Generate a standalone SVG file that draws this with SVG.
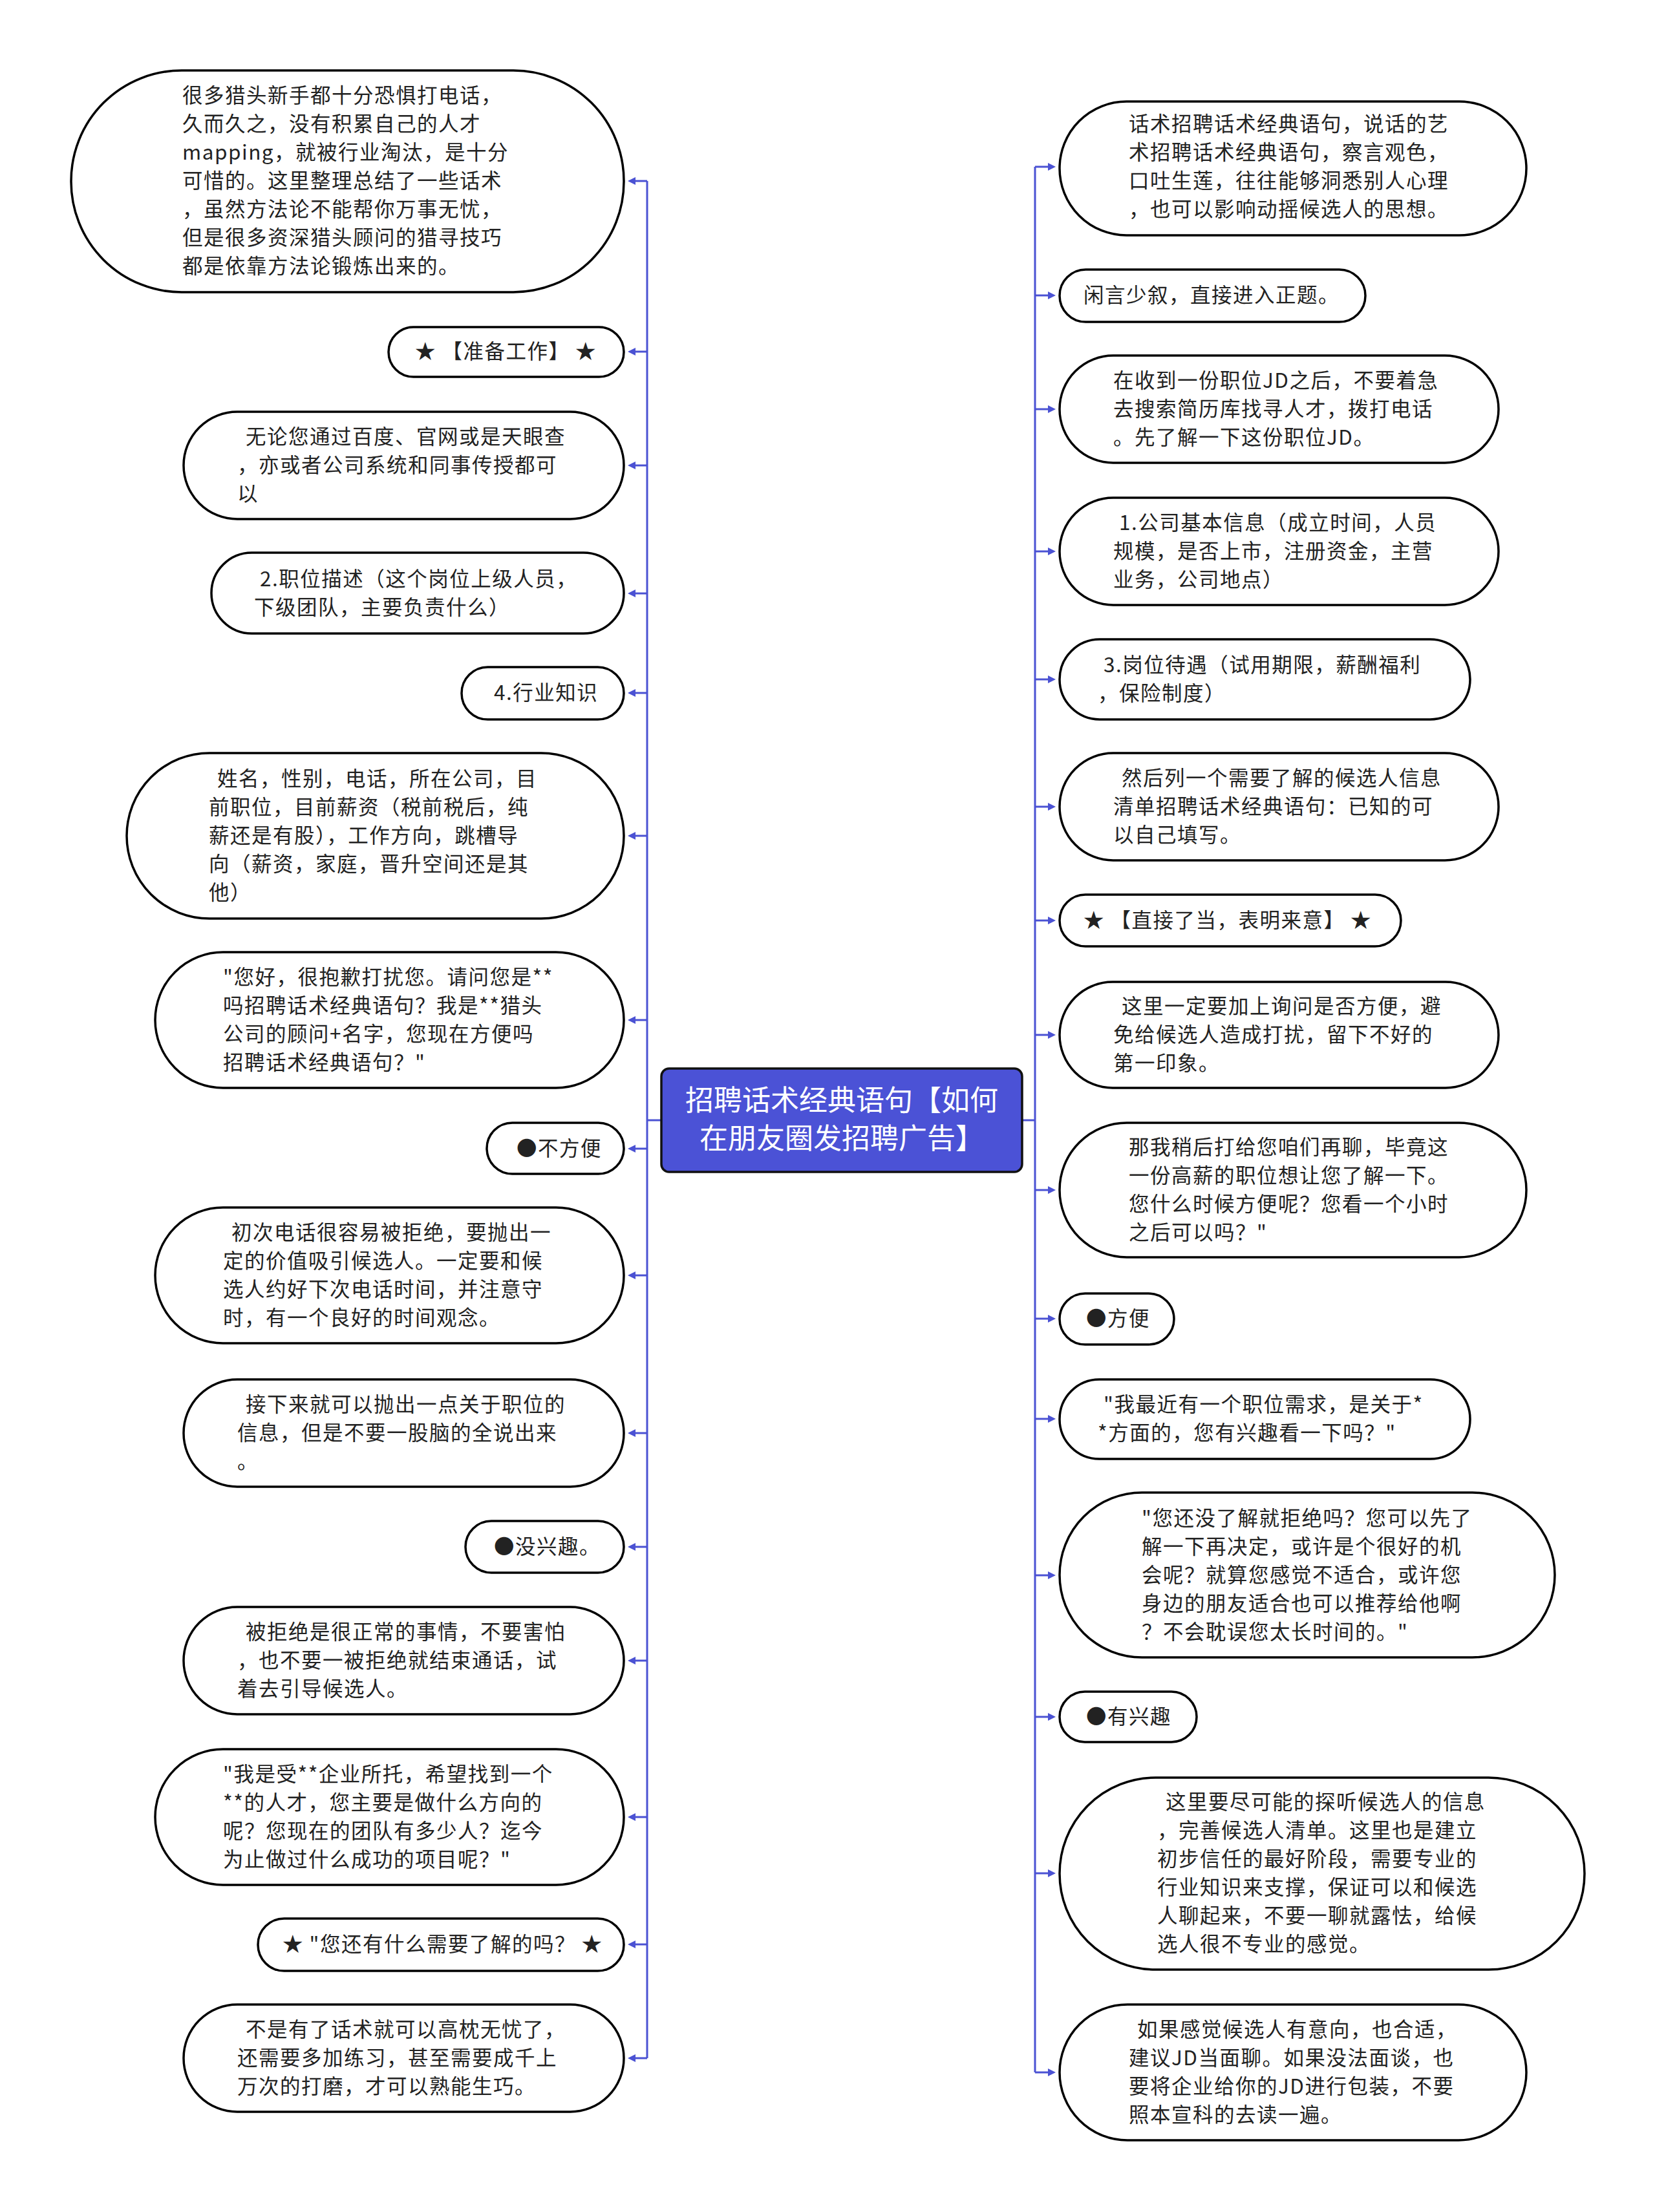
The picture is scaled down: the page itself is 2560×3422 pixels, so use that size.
<svg xmlns="http://www.w3.org/2000/svg" width="2560" height="3422" viewBox="0 0 2560 3422">
<style>
.n rect{fill:#fff;stroke:#000;stroke-width:3.5}
.t{font-family:"Noto Sans CJK SC","Noto Sans",sans-serif;font-size:31.5px;fill:#222;letter-spacing:1.5px}
.c{stroke:#4B52D3;stroke-width:3;fill:none}
.ct{font-family:"Noto Sans CJK SC","Noto Sans",sans-serif;font-size:44px;fill:#fff;text-anchor:middle}
</style>
<defs>
<marker id="ah" markerUnits="userSpaceOnUse" markerWidth="12" markerHeight="12" viewBox="0 0 12 12" refX="0" refY="6" orient="auto"><path d="M0,0 L12,6 L0,12 z" fill="#4B52D3"/></marker>
</defs>
<rect width="2560" height="3422" fill="#fff"/>
<g id="connectors">
<path class="c" d="M1023,1733 H1001 M1001,280 V3184"/>
<path class="c" d="M1581,1733 H1601 M1601,258 V3206"/>
<g marker-end="url(#ah)">
<path class="c" d="M1001,280 H983"/>
<path class="c" d="M1001,544 H983"/>
<path class="c" d="M1001,720 H983"/>
<path class="c" d="M1001,918 H983"/>
<path class="c" d="M1001,1072 H983"/>
<path class="c" d="M1001,1293 H983"/>
<path class="c" d="M1001,1578 H983"/>
<path class="c" d="M1001,1777 H983"/>
<path class="c" d="M1001,1973 H983"/>
<path class="c" d="M1001,2217 H983"/>
<path class="c" d="M1001,2393 H983"/>
<path class="c" d="M1001,2569 H983"/>
<path class="c" d="M1001,2811 H983"/>
<path class="c" d="M1001,3008 H983"/>
<path class="c" d="M1001,3184 H983"/>
<path class="c" d="M1601,258 H1621"/>
<path class="c" d="M1601,457 H1621"/>
<path class="c" d="M1601,633 H1621"/>
<path class="c" d="M1601,853 H1621"/>
<path class="c" d="M1601,1051 H1621"/>
<path class="c" d="M1601,1248 H1621"/>
<path class="c" d="M1601,1424 H1621"/>
<path class="c" d="M1601,1601 H1621"/>
<path class="c" d="M1601,1841 H1621"/>
<path class="c" d="M1601,2040 H1621"/>
<path class="c" d="M1601,2195 H1621"/>
<path class="c" d="M1601,2437 H1621"/>
<path class="c" d="M1601,2656 H1621"/>
<path class="c" d="M1601,2898 H1621"/>
<path class="c" d="M1601,3206 H1621"/>
</g>
</g>
<g id="center">
<rect x="1023" y="1653" width="558" height="160" rx="12" fill="#4B52D6" stroke="#111" stroke-width="3.5"/>
<text class="ct" x="1302" y="1718">招聘话术经典语句【如何</text>
<text class="ct" x="1302" y="1777">在朋友圈发招聘广告】</text>
</g>
<g id="L1" class="n"><rect x="110" y="109" width="855" height="343" rx="171" ry="171"/>
<text class="t" x="282" y="159">很多猎头新手都十分恐惧打电话，</text>
<text class="t" x="282" y="203">久而久之，没有积累自己的人才</text>
<text class="t" x="282" y="247">mapping，就被行业淘汰，是十分</text>
<text class="t" x="282" y="291">可惜的。这里整理总结了一些话术</text>
<text class="t" x="282" y="335">，虽然方法论不能帮你万事无忧，</text>
<text class="t" x="282" y="379">但是很多资深猎头顾问的猎寻技巧</text>
<text class="t" x="282" y="423">都是依靠方法论锻炼出来的。</text>
</g>
<g id="L2" class="n"><rect x="601" y="506" width="364" height="77" rx="38.5"/>
<text class="t" x="642" y="555">★ 【准备工作】 ★</text>
</g>
<g id="L3" class="n"><rect x="284" y="637" width="681" height="166" rx="83"/>
<text class="t" x="380" y="687">无论您通过百度、官网或是天眼查</text>
<text class="t" x="367" y="731">，亦或者公司系统和同事传授都可</text>
<text class="t" x="367" y="775">以</text>
</g>
<g id="L4" class="n"><rect x="327" y="855" width="638" height="125" rx="62.5"/>
<text class="t" x="402" y="907">2.职位描述（这个岗位上级人员，</text>
<text class="t" x="393" y="951">下级团队，主要负责什么）</text>
</g>
<g id="L5" class="n"><rect x="714" y="1032" width="251" height="81" rx="40.5"/>
<text class="t" x="764" y="1083">4.行业知识</text>
</g>
<g id="L6" class="n"><rect x="196" y="1165" width="769" height="256" rx="128"/>
<text class="t" x="336" y="1216">姓名，性别，电话，所在公司，目</text>
<text class="t" x="323" y="1260">前职位，目前薪资（税前税后，纯</text>
<text class="t" x="323" y="1304">薪还是有股），工作方向，跳槽导</text>
<text class="t" x="323" y="1348">向（薪资，家庭，晋升空间还是其</text>
<text class="t" x="323" y="1392">他）</text>
</g>
<g id="L7" class="n"><rect x="240" y="1473" width="725" height="210" rx="105"/>
<text class="t" x="345" y="1523">"您好，很抱歉打扰您。请问您是**</text>
<text class="t" x="345" y="1567">吗招聘话术经典语句？我是**猎头</text>
<text class="t" x="345" y="1611">公司的顾问+名字，您现在方便吗</text>
<text class="t" x="345" y="1655">招聘话术经典语句？"</text>
</g>
<g id="L8" class="n"><rect x="753" y="1737" width="212" height="79" rx="39.5"/>
<text class="t" x="799" y="1788">●不方便</text>
</g>
<g id="L9" class="n"><rect x="240" y="1868" width="725" height="210" rx="105"/>
<text class="t" x="358" y="1918">初次电话很容易被拒绝，要抛出一</text>
<text class="t" x="345" y="1962">定的价值吸引候选人。一定要和候</text>
<text class="t" x="345" y="2006">选人约好下次电话时间，并注意守</text>
<text class="t" x="345" y="2050">时，有一个良好的时间观念。</text>
</g>
<g id="L10" class="n"><rect x="284" y="2134" width="681" height="166" rx="83"/>
<text class="t" x="380" y="2184">接下来就可以抛出一点关于职位的</text>
<text class="t" x="367" y="2228">信息，但是不要一股脑的全说出来</text>
<text class="t" x="367" y="2272">。</text>
</g>
<g id="L11" class="n"><rect x="720" y="2353" width="245" height="80" rx="40"/>
<text class="t" x="764" y="2404">●没兴趣。</text>
</g>
<g id="L12" class="n"><rect x="284" y="2486" width="681" height="166" rx="83"/>
<text class="t" x="380" y="2536">被拒绝是很正常的事情，不要害怕</text>
<text class="t" x="367" y="2580">，也不要一被拒绝就结束通话，试</text>
<text class="t" x="367" y="2624">着去引导候选人。</text>
</g>
<g id="L13" class="n"><rect x="240" y="2706" width="725" height="210" rx="105"/>
<text class="t" x="345" y="2756">"我是受**企业所托，希望找到一个</text>
<text class="t" x="345" y="2800">**的人才，您主要是做什么方向的</text>
<text class="t" x="345" y="2844">呢？您现在的团队有多少人？迄今</text>
<text class="t" x="345" y="2888">为止做过什么成功的项目呢？"</text>
</g>
<g id="L14" class="n"><rect x="399" y="2968" width="566" height="81" rx="40.5"/>
<text class="t" x="437" y="3019">★ "您还有什么需要了解的吗？ ★</text>
</g>
<g id="L15" class="n"><rect x="284" y="3101" width="681" height="166" rx="83"/>
<text class="t" x="380" y="3151">不是有了话术就可以高枕无忧了，</text>
<text class="t" x="367" y="3195">还需要多加练习，甚至需要成千上</text>
<text class="t" x="367" y="3239">万次的打磨，才可以熟能生巧。</text>
</g>
<g id="R1" class="n"><rect x="1639" y="157" width="722" height="207" rx="103.5"/>
<text class="t" x="1746" y="203">话术招聘话术经典语句，说话的艺</text>
<text class="t" x="1746" y="247">术招聘话术经典语句，察言观色，</text>
<text class="t" x="1746" y="291">口吐生莲，往往能够洞悉别人心理</text>
<text class="t" x="1746" y="335">，也可以影响动摇候选人的思想。</text>
</g>
<g id="R2" class="n"><rect x="1639" y="417" width="473" height="81" rx="40.5"/>
<text class="t" x="1676" y="468">闲言少叙，直接进入正题。</text>
</g>
<g id="R3" class="n"><rect x="1639" y="550" width="679" height="166" rx="83"/>
<text class="t" x="1722" y="600">在收到一份职位JD之后，不要着急</text>
<text class="t" x="1722" y="644">去搜索简历库找寻人才，拨打电话</text>
<text class="t" x="1722" y="688">。先了解一下这份职位JD。</text>
</g>
<g id="R4" class="n"><rect x="1639" y="770" width="679" height="166" rx="83"/>
<text class="t" x="1731" y="820">1.公司基本信息（成立时间，人员</text>
<text class="t" x="1722" y="864">规模，是否上市，注册资金，主营</text>
<text class="t" x="1722" y="908">业务，公司地点）</text>
</g>
<g id="R5" class="n"><rect x="1639" y="989" width="635" height="124" rx="62"/>
<text class="t" x="1707" y="1040">3.岗位待遇（试用期限，薪酬福利</text>
<text class="t" x="1698" y="1084">，保险制度）</text>
</g>
<g id="R6" class="n"><rect x="1639" y="1165" width="679" height="166" rx="83"/>
<text class="t" x="1735" y="1215">然后列一个需要了解的候选人信息</text>
<text class="t" x="1722" y="1259">清单招聘话术经典语句：已知的可</text>
<text class="t" x="1722" y="1303">以自己填写。</text>
</g>
<g id="R7" class="n"><rect x="1639" y="1384" width="528" height="80" rx="40"/>
<text class="t" x="1676" y="1435">★ 【直接了当，表明来意】 ★</text>
</g>
<g id="R8" class="n"><rect x="1639" y="1519" width="679" height="164" rx="82"/>
<text class="t" x="1735" y="1568">这里一定要加上询问是否方便，避</text>
<text class="t" x="1722" y="1612">免给候选人造成打扰，留下不好的</text>
<text class="t" x="1722" y="1656">第一印象。</text>
</g>
<g id="R9" class="n"><rect x="1639" y="1737" width="722" height="208" rx="104"/>
<text class="t" x="1746" y="1786">那我稍后打给您咱们再聊，毕竟这</text>
<text class="t" x="1746" y="1830">一份高薪的职位想让您了解一下。</text>
<text class="t" x="1746" y="1874">您什么时候方便呢？您看一个小时</text>
<text class="t" x="1746" y="1918">之后可以吗？"</text>
</g>
<g id="R10" class="n"><rect x="1639" y="2001" width="177" height="79" rx="39.5"/>
<text class="t" x="1680" y="2051">●方便</text>
</g>
<g id="R11" class="n"><rect x="1639" y="2134" width="635" height="123" rx="61.5"/>
<text class="t" x="1707" y="2184">"我最近有一个职位需求，是关于*</text>
<text class="t" x="1698" y="2228">*方面的，您有兴趣看一下吗？"</text>
</g>
<g id="R12" class="n"><rect x="1639" y="2309" width="766" height="255" rx="127.5"/>
<text class="t" x="1766" y="2360">"您还没了解就拒绝吗？您可以先了</text>
<text class="t" x="1766" y="2404">解一下再决定，或许是个很好的机</text>
<text class="t" x="1766" y="2448">会呢？就算您感觉不适合，或许您</text>
<text class="t" x="1766" y="2492">身边的朋友适合也可以推荐给他啊</text>
<text class="t" x="1766" y="2536">？不会耽误您太长时间的。"</text>
</g>
<g id="R13" class="n"><rect x="1639" y="2617" width="212" height="78" rx="39"/>
<text class="t" x="1680" y="2667">●有兴趣</text>
</g>
<g id="R14" class="n"><rect x="1639" y="2750" width="812" height="297" rx="148.5"/>
<text class="t" x="1803" y="2799">这里要尽可能的探听候选人的信息</text>
<text class="t" x="1790" y="2843">，完善候选人清单。这里也是建立</text>
<text class="t" x="1790" y="2887">初步信任的最好阶段，需要专业的</text>
<text class="t" x="1790" y="2931">行业知识来支撑，保证可以和候选</text>
<text class="t" x="1790" y="2975">人聊起来，不要一聊就露怯，给候</text>
<text class="t" x="1790" y="3019">选人很不专业的感觉。</text>
</g>
<g id="R15" class="n"><rect x="1639" y="3101" width="722" height="210" rx="105"/>
<text class="t" x="1759" y="3151">如果感觉候选人有意向，也合适，</text>
<text class="t" x="1746" y="3195">建议JD当面聊。如果没法面谈，也</text>
<text class="t" x="1746" y="3239">要将企业给你的JD进行包装，不要</text>
<text class="t" x="1746" y="3283">照本宣科的去读一遍。</text>
</g>
</svg>
